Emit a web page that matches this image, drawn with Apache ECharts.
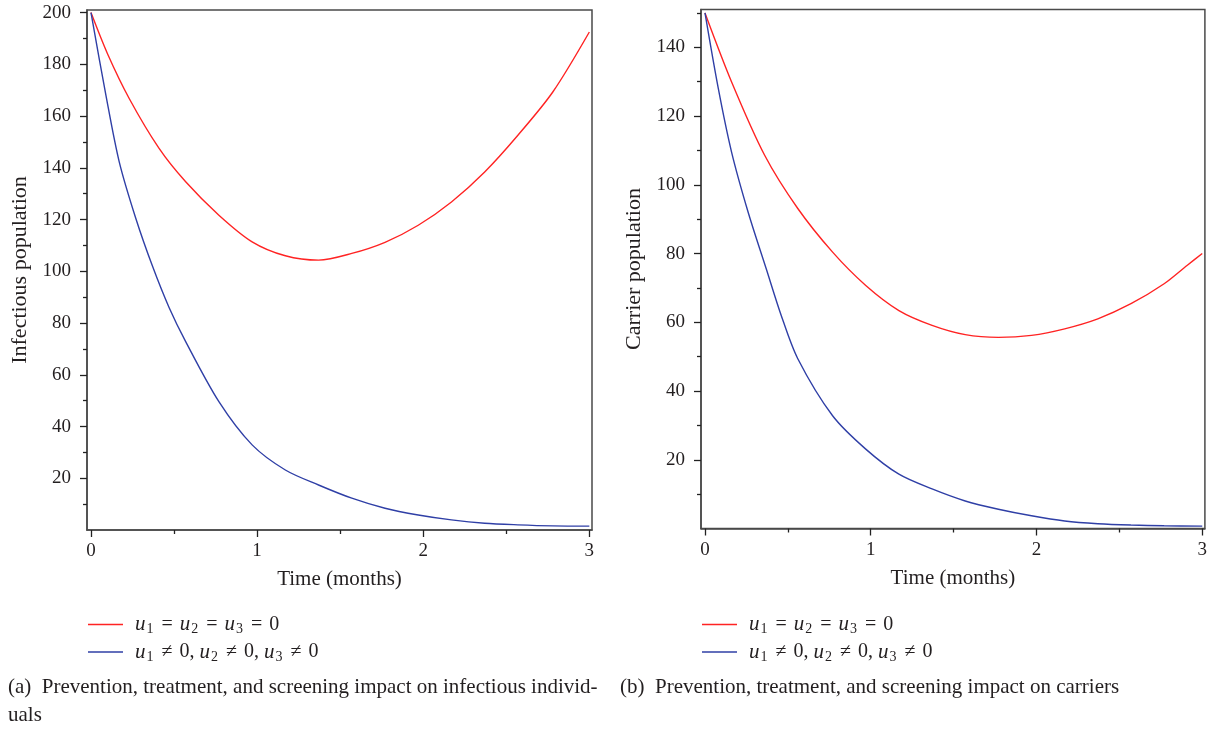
<!DOCTYPE html>
<html>
<head>
<meta charset="utf-8">
<script src="https://cdn.jsdelivr.net/npm/echarts@6/dist/echarts.min.js"></script>
<style>
html,body{margin:0;padding:0;background:#fff;}
#chart{width:1210px;height:729px;}
</style>
</head>
<body>
<div id="chart"></div>
<script>
// ---- data ----
const seriesNames = ['noControl', 'withControl'];
// (a) infectious population: [time (months), value]
const infectiousNoControl = [[0,200],[0.1,184],[0.23,166.8],[0.41,147.5],[0.57,134.6],[0.77,121.7],[0.97,111.4],[1.17,106],[1.37,104.3],[1.57,106.9],[1.77,111.2],[1.97,117.8],[2.17,126.8],[2.37,138.4],[2.57,152.6],[2.78,169.3],[3,192.5]];
const infectiousControl = [[0,200],[0.09,168],[0.17,142.3],[0.27,120.4],[0.37,102],[0.47,86],[0.57,72.8],[0.77,49.6],[0.97,32.9],[1.17,23.2],[1.37,17.4],[1.57,12.3],[1.77,8.4],[1.97,5.8],[2.17,3.9],[2.37,2.6],[2.57,2.0],[2.78,1.6],[3,1.5]];
// (b) carrier population
const carrierNoControl = [[0,150],[0.16,130],[0.36,108.6],[0.56,93.1],[0.77,80.4],[0.97,70.7],[1.17,63.4],[1.37,59.1],[1.57,56.4],[1.77,55.6],[1.97,56.2],[2.17,58.1],[2.37,61.0],[2.57,65.4],[2.77,71.2],[2.91,76.6],[3,80]];
const carrierControl = [[0,150],[0.08,128.1],[0.16,109.6],[0.26,92.1],[0.37,75.5],[0.46,62],[0.56,49.4],[0.77,32.8],[0.97,23.1],[1.17,15.8],[1.37,11.5],[1.57,8.0],[1.77,5.6],[1.97,3.7],[2.17,2.2],[2.37,1.4],[2.57,1.0],[2.77,0.8],[3,0.7]];
// ticks
const xTickLabels = [0, 1, 2, 3];
const xMinorTicks = [0.5, 1.5, 2.5];
const infYTicks = [20, 40, 60, 80, 100, 120, 140, 160, 180, 200];
const infYMinor = [10, 30, 50, 70, 90, 110, 130, 150, 170, 190];
const carYTicks = [20, 40, 60, 80, 100, 120, 140];
const carYMinor = [10, 30, 50, 70, 90, 110, 130, 150];
// texts
const xName = 'Time (months)';
const infYName = 'Infectious population';
const carYName = 'Carrier population';
const captionA = '(a)  Prevention, treatment, and screening impact on infectious individ-\nuals';
const captionB = '(b)  Prevention, treatment, and screening impact on carriers';

const FONT = '"Liberation Serif", "DejaVu Serif", serif';
const AXIS_COLOR = '#4a4a4a';
const TEXT_COLOR = '#231f20';
const RED = '#ff2323';
const BLUE = '#2f3fa6';

const G = '{g| }';
const legendLabels = {
  noControl: '{i|u}{s|1}' + G + '{t|=}' + G + '{i|u}{s|2}' + G + '{t|=}' + G + '{i|u}{s|3}' + G + '{t|=}' + G + '{t|0}',
  withControl: '{i|u}{s|1}' + G + '{t|\u2260}' + G + '{t|0, }{i|u}{s|2}' + G + '{t|\u2260}' + G + '{t|0, }{i|u}{s|3}' + G + '{t|\u2260}' + G + '{t|0}'
};
const legendRich = {
  i: {fontFamily: FONT, fontStyle: 'italic', fontSize: 21, color: TEXT_COLOR},
  s: {fontFamily: FONT, fontSize: 14, color: TEXT_COLOR, padding: [10,1,0,1]},
  t: {fontFamily: FONT, fontSize: 20, color: TEXT_COLOR},
  g: {fontFamily: FONT, fontSize: 20, width: 7}
};

function mainX(gridIndex) {
  return {
    type: 'value', gridIndex, position: 'bottom',
    min: -0.024, max: 3.016,
    name: xName, nameLocation: 'middle', nameGap: 39,
    nameTextStyle: {fontFamily: FONT, fontSize: 21, color: TEXT_COLOR},
    axisLine: {show: true, onZero: false, lineStyle: {color: AXIS_COLOR, width: 1.5}},
    axisTick: {show: true, inside: false, length: 7, customValues: xTickLabels, lineStyle: {color: '#222', width: 1.3}},
    axisLabel: {customValues: xTickLabels, margin: 12, fontFamily: FONT, fontSize: 19, color: TEXT_COLOR},
    splitLine: {show: false}
  };
}
function minorX(gridIndex) {
  return {
    type: 'value', gridIndex, position: 'bottom',
    min: -0.024, max: 3.016,
    axisLine: {show: false, onZero: false},
    axisTick: {show: true, length: 4, customValues: xMinorTicks, lineStyle: {color: '#222', width: 1.3}},
    axisLabel: {show: false},
    splitLine: {show: false}
  };
}
function mainY(gridIndex, max, ticks, name) {
  return {
    type: 'value', gridIndex, position: 'left',
    min: 0, max,
    name, nameLocation: 'middle', nameGap: 56,
    nameTextStyle: {fontFamily: FONT, fontSize: 22, color: TEXT_COLOR},
    axisLine: {show: true, onZero: false, lineStyle: {color: AXIS_COLOR, width: 1.5}},
    axisTick: {show: true, length: 7, customValues: ticks, lineStyle: {color: '#222', width: 1.3}},
    axisLabel: {customValues: ticks, margin: 16, fontFamily: FONT, fontSize: 19, color: TEXT_COLOR},
    splitLine: {show: false}
  };
}
function minorY(gridIndex, max, ticks) {
  return {
    type: 'value', gridIndex, position: 'left',
    min: 0, max,
    axisLine: {show: false, onZero: false},
    axisTick: {show: true, length: 4, customValues: ticks, lineStyle: {color: '#222', width: 1.3}},
    axisLabel: {show: false},
    splitLine: {show: false}
  };
}
function line(name, data, color, xi, yi) {
  return {
    type: 'line', name, data, xAxisIndex: xi, yAxisIndex: yi,
    smooth: 0.3, symbol: 'none', silent: true, animation: false,
    lineStyle: {color, width: 1.4}, itemStyle: {color}
  };
}
function legend(left) {
  return {
    left, top: 613, orient: 'vertical', padding: 0,
    data: seriesNames, icon: 'rect', itemWidth: 35, itemHeight: 1.6,
    itemGap: 4, selectedMode: false,
    formatter: n => legendLabels[n],
    textStyle: {fontFamily: FONT, fontSize: 20, color: TEXT_COLOR, lineHeight: 23, padding: [0,0,0,7], rich: legendRich}
  };
}

const chart = echarts.init(document.getElementById('chart'), null, {renderer: 'canvas'});
chart.setOption({
  animation: false,
  backgroundColor: '#ffffff',
  title: [
    {text: captionA, left: 8, top: 673, padding: 0, textStyle: {fontFamily: FONT, fontSize: 21, fontWeight: 'normal', color: TEXT_COLOR, lineHeight: 28}},
    {text: captionB, left: 620, top: 673, padding: 0, textStyle: {fontFamily: FONT, fontSize: 21, fontWeight: 'normal', color: TEXT_COLOR, lineHeight: 28}}
  ],
  grid: [
    {left: 87, top: 10, width: 505, height: 520, show: true, borderColor: AXIS_COLOR, borderWidth: 1.5, backgroundColor: 'transparent'},
    {left: 701, top: 9.5, width: 505, height: 519, show: true, borderColor: AXIS_COLOR, borderWidth: 1.5, backgroundColor: 'transparent'}
  ],
  xAxis: [mainX(0), minorX(0), mainX(1), minorX(1)],
  yAxis: [
    mainY(0, 201, infYTicks, infYName), minorY(0, 201, infYMinor),
    mainY(1, 151, carYTicks, carYName), minorY(1, 151, carYMinor)
  ],
  legend: [legend(88), legend(702)],
  series: [
    line('noControl', infectiousNoControl, RED, 0, 0),
    line('withControl', infectiousControl, BLUE, 0, 0),
    line('noControl', carrierNoControl, RED, 2, 2),
    line('withControl', carrierControl, BLUE, 2, 2)
  ]
});
</script>
</body>
</html>
